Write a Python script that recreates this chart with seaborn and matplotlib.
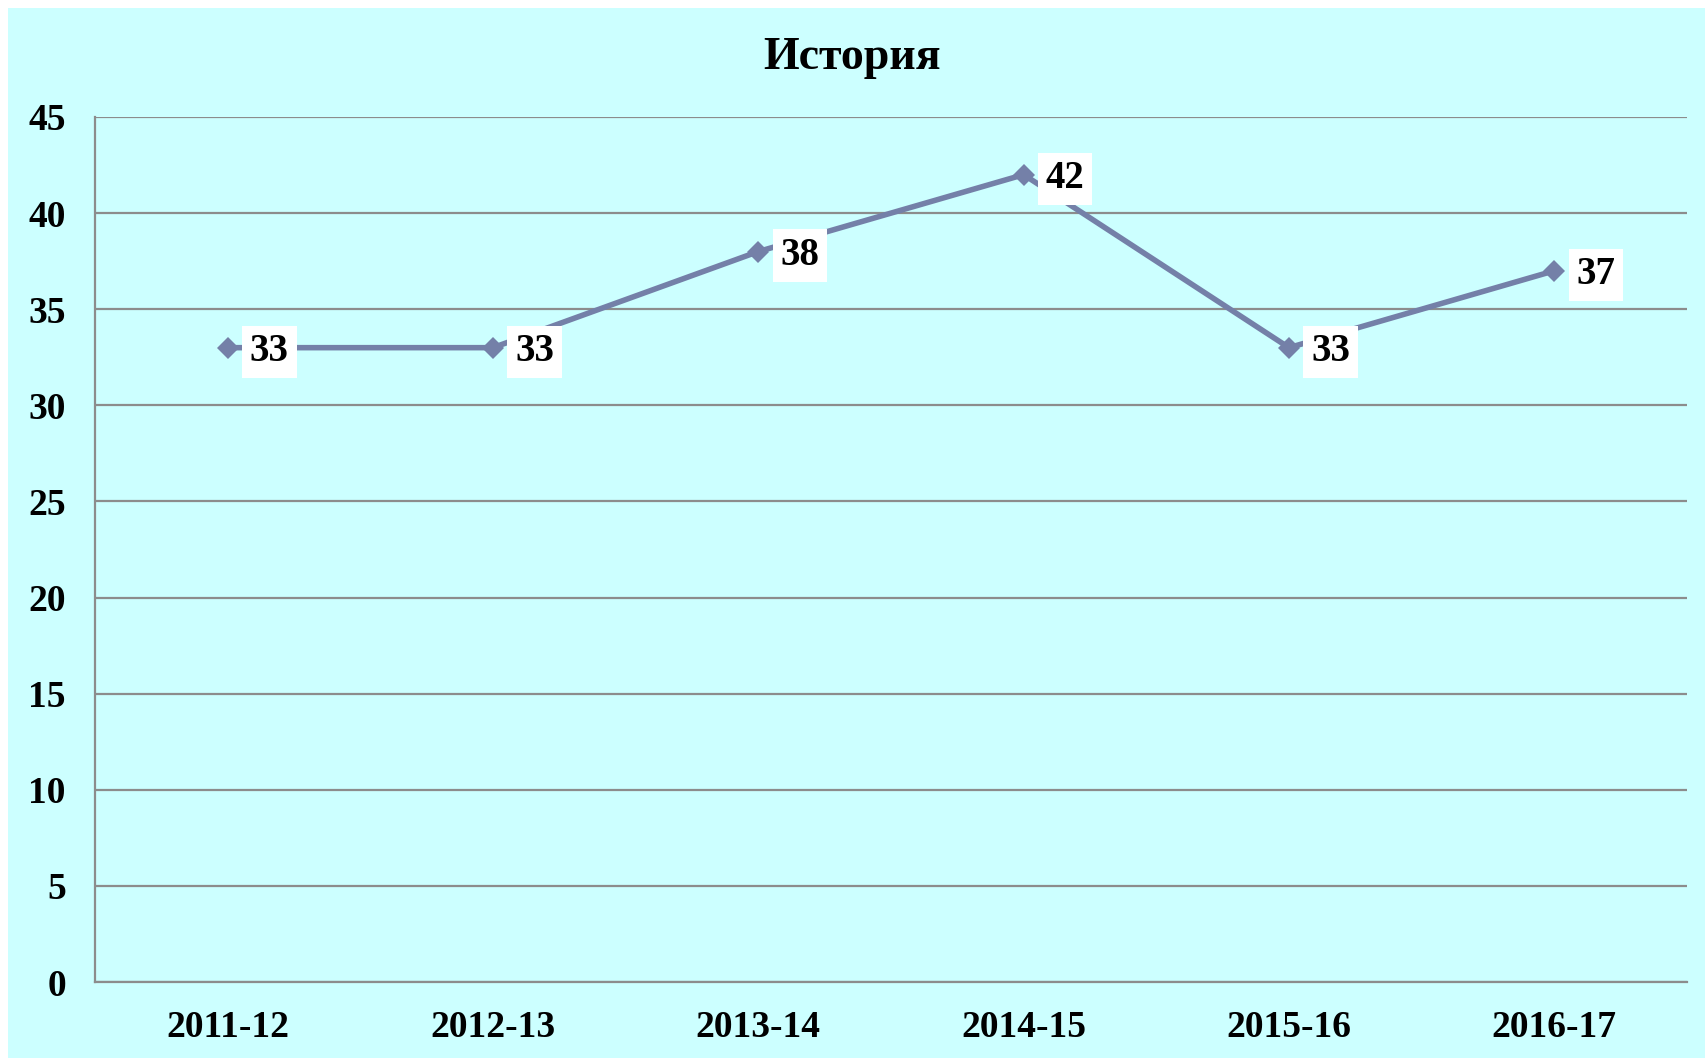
import matplotlib
matplotlib.use("Agg")
import matplotlib.pyplot as plt
import matplotlib.patches as mpatches
import seaborn as sns
import pandas as pd

# chart data
years = ['2011-12', '2012-13', '2013-14', '2014-15', '2015-16', '2016-17']
scores = [33, 33, 38, 42, 33, 37]
title = 'История'

sns.set_style('white')
plt.rcParams['font.family'] = ['Liberation Serif', 'DejaVu Serif']
plt.rcParams['font.weight'] = 'bold'

bg = '#CCFFFF'
line_col = '#7480A8'
grid_col = '#8C8C8C'

fig = plt.figure(figsize=(17.05, 10.59), dpi=100)
fig.patch.set_facecolor('white')
# cyan chart area (slightly inset like the original)
fig.patches.append(mpatches.Rectangle((8 / 1705, 1 / 1059), 1 - 8 / 1705, 1 - 9 / 1059,
                                      transform=fig.transFigure, facecolor=bg,
                                      edgecolor='none', zorder=-10))

ax = fig.add_axes([95 / 1705, 1 - 982 / 1059, (1687 - 95) / 1705, (982 - 117) / 1059])
ax.set_zorder(1)
ax.set_facecolor(bg)

df = pd.DataFrame({'pos': range(len(years)), 'score': scores})
sns.lineplot(data=df, x='pos', y='score', ax=ax, color=line_col, linewidth=4,
             marker='D', markersize=11, markeredgewidth=0, zorder=3)

ax.set_xlim(-0.5, len(years) - 0.5)
ax.set_ylim(0, 45)
ax.set_yticks(range(0, 46, 5))
ax.yaxis.grid(True, color=grid_col, linewidth=1.6)
ax.set_axisbelow(True)

# category labels at centers, tick marks at category borders
ax.set_xticks(range(len(years)))
ax.set_xticklabels(years)
ax.set_xticks([i - 0.5 for i in range(len(years) + 1)], minor=True)
ax.tick_params(axis='x', which='major', length=0, pad=20, labelsize=27, labelcolor='black')
ax.tick_params(axis='x', which='minor', length=9, width=1.6, color=grid_col, direction='out')
ax.tick_params(axis='y', length=9, width=1.6, color=grid_col, direction='out', pad=12,
               labelsize=27, labelcolor='black')
for lbl in ax.get_xticklabels() + ax.get_yticklabels():
    lbl.set_fontweight('bold')

for side in ['top', 'right']:
    ax.spines[side].set_visible(False)
for side in ['left', 'bottom']:
    ax.spines[side].set_color(grid_col)
    ax.spines[side].set_linewidth(1.6)

ax.set_xlabel('')
ax.set_ylabel('')

for i, v in enumerate(scores):
    ax.annotate(str(v), (i, v), xytext=(16, -3), textcoords='offset points',
                ha='left', va='center', fontsize=28, fontweight='bold', color='black',
                bbox=dict(boxstyle='square,pad=0.2', facecolor='white', edgecolor='none'),
                zorder=5)

fig.text(0.5, 1 - 58 / 1059, title, ha='center', va='center', fontsize=33,
         fontweight='bold', color='black')

fig.savefig('out.png', dpi=100, facecolor=fig.get_facecolor())
